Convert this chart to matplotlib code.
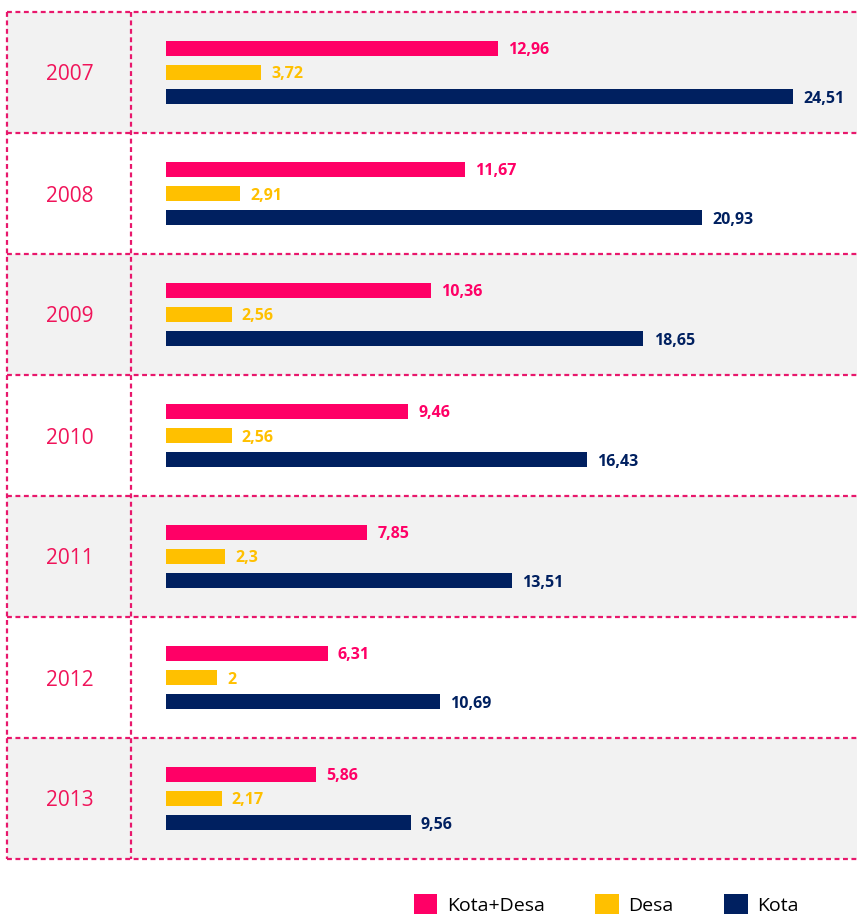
import matplotlib
matplotlib.use("Agg")
import matplotlib.pyplot as plt
from matplotlib.patches import Rectangle, Patch

years = ["2007", "2008", "2009", "2010", "2011", "2012", "2013"]
kota_desa = [12.96, 11.67, 10.36, 9.46, 7.85, 6.31, 5.86]
desa = [3.72, 2.91, 2.56, 2.56, 2.3, 2.0, 2.17]
kota = [24.51, 20.93, 18.65, 16.43, 13.51, 10.69, 9.56]
labels_kd = ["12,96", "11,67", "10,36", "9,46", "7,85", "6,31", "5,86"]
labels_d = ["3,72", "2,91", "2,56", "2,56", "2,3", "2", "2,17"]
labels_k = ["24,51", "20,93", "18,65", "16,43", "13,51", "10,69", "9,56"]
series_names = ["Kota+Desa", "Desa", "Kota"]

PINK = "#FF0066"
YELLOW = "#FFC000"
NAVY = "#002060"
LINE = "#E8186C"
GRAY = "#F2F2F2"

plt.rcParams["font.family"] = ["Open Sans", "DejaVu Sans"]

W, H = 857, 914
fig = plt.figure(figsize=(W / 100, H / 100), dpi=100)

left_px, right_px, top_px, bot_px = 7, 857, 12, 859
ax = fig.add_axes([left_px / W, (H - bot_px) / H, (right_px - left_px) / W, (bot_px - top_px) / H])

scale = 25.6  # px per unit
zero_px = 166
xmin = -(zero_px - left_px) / scale
xmax = (right_px - zero_px) / scale
ax.set_xlim(xmin, xmax)
n = len(years)
ax.set_ylim(n, 0)
ax.axis("off")

sep_x = (131 - zero_px) / scale
year_x = (70 - zero_px) / scale

# backgrounds
for i in range(n):
    if i % 2 == 0:
        ax.add_patch(Rectangle((xmin, i), xmax - xmin, 1, facecolor=GRAY, edgecolor="none", zorder=0))

# grid lines
dash = dict(color=LINE, lw=1.6, ls=(0, (2.2, 1.6)), zorder=1, clip_on=False)
for i in range(n + 1):
    ax.plot([xmin, xmax], [i, i], **dash)
ax.plot([xmin, xmin], [0, n], **dash)
ax.plot([sep_x, sep_x], [0, n], **dash)

bh = 0.125
off = 0.2
ys = [i + 0.5 for i in range(n)]
for vals, labs, col, d in [(kota_desa, labels_kd, PINK, -off), (desa, labels_d, YELLOW, 0), (kota, labels_k, NAVY, off)]:
    yy = [y + d for y in ys]
    ax.barh(yy, vals, height=bh, color=col, zorder=2)
    for y, v, lab in zip(yy, vals, labs):
        ax.text(v + 0.4, y, lab, color=col, fontsize=11.5, fontweight="bold",
                va="center_baseline", ha="left", zorder=3)

for y, yr in zip(ys, years):
    ax.text(year_x, y, yr, color="#F0145A", fontsize=15, ha="center", va="center_baseline", zorder=3)

handles = [Patch(facecolor=c, edgecolor="none") for c in (PINK, YELLOW, NAVY)]
fig.legend(handles, series_names, loc="upper left", bbox_to_anchor=(414 / W, (H - 894) / H),
           ncol=3, frameon=False, fontsize=14, handlelength=1.2, handleheight=1.2,
           handletextpad=0.5, columnspacing=2.6, borderpad=0, borderaxespad=0)

fig.savefig("out.png", dpi=100)
